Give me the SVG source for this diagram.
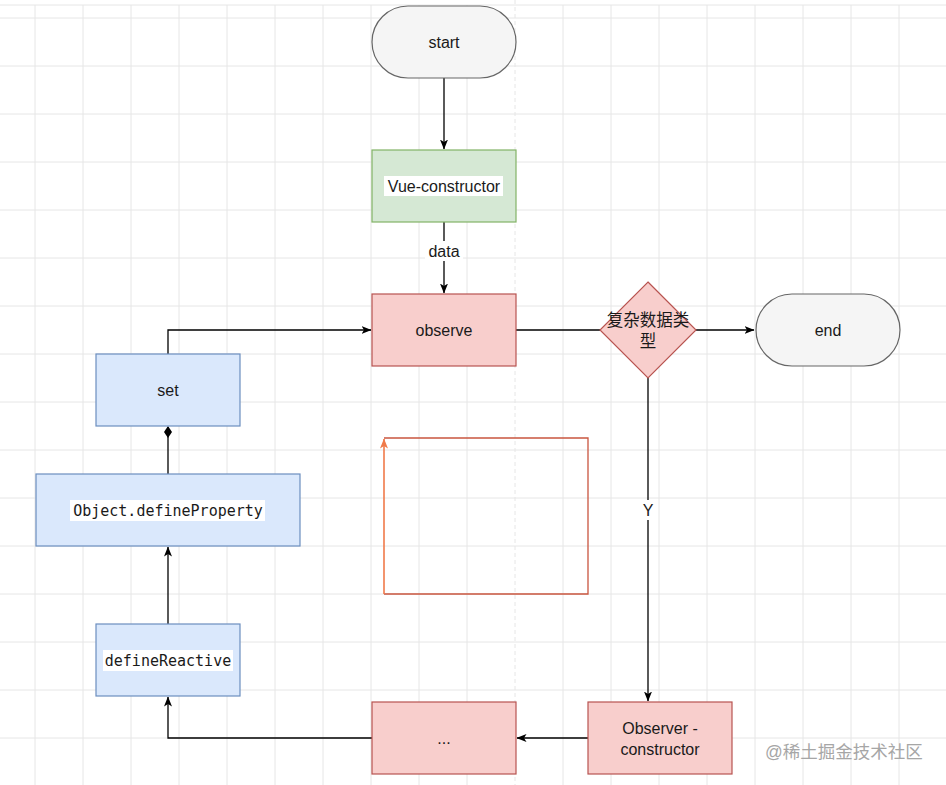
<svg xmlns="http://www.w3.org/2000/svg" width="946" height="785" viewBox="0 0 946 785">
  <style>
    .grid line { stroke: #e6e6e6; stroke-width: 1; }
    .lbl { font-family: "Liberation Sans", Arial, sans-serif; font-size: 16px; fill: #1a1a1a; text-anchor: middle; dominant-baseline: central; }
    .mono { font-family: "DejaVu Sans Mono", "Liberation Mono", monospace; font-size: 15px; fill: #1a1a1a; text-anchor: middle; dominant-baseline: central; }
    .cjk { font-family: "Liberation Sans", "Noto Sans CJK SC", sans-serif; font-size: 16.5px; fill: #1a1a1a; text-anchor: middle; dominant-baseline: central; }
    .term { fill: #f5f5f5; stroke: #666666; stroke-width: 1.2; }
    .green { fill: #d5e8d4; stroke: #82b366; stroke-width: 1.2; }
    .red { fill: #f8cecc; stroke: #b85450; stroke-width: 1.2; }
    .blue { fill: #dae8fc; stroke: #6c8ebf; stroke-width: 1.2; }
    .edge { fill: none; stroke: #000; stroke-width: 1.3; }
  </style>
  <defs>
    <marker id="arrow" viewBox="0 0 10 10" refX="9.5" refY="5" markerWidth="10" markerHeight="10" markerUnits="userSpaceOnUse" orient="auto">
      <path d="M0,1 L10,5 L0,9 L2.5,5 z" fill="#000"/>
    </marker>
    <marker id="arrowOrange" viewBox="0 0 10 10" refX="9.5" refY="5" markerWidth="10" markerHeight="10" markerUnits="userSpaceOnUse" orient="auto">
      <path d="M0,1 L10,5 L0,9 L2.5,5 z" fill="#f07a4a"/>
    </marker>
    <marker id="diamond" viewBox="0 0 12 12" refX="11" refY="6" markerWidth="12" markerHeight="12" markerUnits="userSpaceOnUse" orient="auto">
      <path d="M0,6 L6,2 L12,6 L6,10 z" fill="#000"/>
    </marker>
  </defs>
  <rect x="0" y="0" width="946" height="785" fill="#ffffff"/>
  <g class="grid">
    <line x1="0" y1="5" x2="946" y2="5"/>
    <line x1="0" y1="18" x2="946" y2="18"/>
    <line x1="0" y1="66" x2="946" y2="66"/>
    <line x1="0" y1="114" x2="946" y2="114"/>
    <line x1="0" y1="162" x2="946" y2="162"/>
    <line x1="0" y1="210" x2="946" y2="210"/>
    <line x1="0" y1="258" x2="946" y2="258"/>
    <line x1="0" y1="306" x2="946" y2="306"/>
    <line x1="0" y1="354" x2="946" y2="354"/>
    <line x1="0" y1="402" x2="946" y2="402"/>
    <line x1="0" y1="450" x2="946" y2="450"/>
    <line x1="0" y1="498" x2="946" y2="498"/>
    <line x1="0" y1="546" x2="946" y2="546"/>
    <line x1="0" y1="594" x2="946" y2="594"/>
    <line x1="0" y1="642" x2="946" y2="642"/>
    <line x1="0" y1="690" x2="946" y2="690"/>
    <line x1="0" y1="738" x2="946" y2="738"/>
    <line x1="35" y1="5" x2="35" y2="785"/>
    <line x1="83" y1="5" x2="83" y2="785"/>
    <line x1="131" y1="5" x2="131" y2="785"/>
    <line x1="179" y1="5" x2="179" y2="785"/>
    <line x1="227" y1="5" x2="227" y2="785"/>
    <line x1="275" y1="5" x2="275" y2="785"/>
    <line x1="323" y1="5" x2="323" y2="785"/>
    <line x1="371" y1="5" x2="371" y2="785"/>
    <line x1="419" y1="5" x2="419" y2="785"/>
    <line x1="467" y1="5" x2="467" y2="785"/>
    <line x1="563" y1="5" x2="563" y2="785"/>
    <line x1="611" y1="5" x2="611" y2="785"/>
    <line x1="659" y1="5" x2="659" y2="785"/>
    <line x1="707" y1="5" x2="707" y2="785"/>
    <line x1="755" y1="5" x2="755" y2="785"/>
    <line x1="803" y1="5" x2="803" y2="785"/>
    <line x1="851" y1="5" x2="851" y2="785"/>
    <line x1="899" y1="5" x2="899" y2="785"/>
    <line x1="515" y1="0" x2="515" y2="785" stroke="#c8c8c8" stroke-dasharray="4 3"/>
  </g>

  <g id="connectors">
    <path class="edge" d="M444,78 L444,149" marker-end="url(#arrow)"/>
    <path class="edge" d="M444,222 L444,293" marker-end="url(#arrow)"/>
    <rect x="425" y="241" width="38" height="20" fill="#ffffff"/>
    <text class="lbl" x="444" y="251">data</text>
    <path class="edge" d="M516,330 L600,330"/>
    <path class="edge" d="M696,330 L754,330" marker-end="url(#arrow)"/>
    <path class="edge" d="M648,378 L648,701" marker-end="url(#arrow)"/>
    <rect x="640" y="500" width="16" height="20" fill="#ffffff"/>
    <text class="lbl" x="648" y="510">Y</text>
    <path class="edge" d="M588,738 L517,738" marker-end="url(#arrow)"/>
    <path class="edge" d="M372,738 L168,738 L168,697" marker-end="url(#arrow)"/>
    <path class="edge" d="M168,624 L168,547" marker-end="url(#arrow)"/>
    <path class="edge" d="M168,474 L168,427" marker-end="url(#diamond)"/>
    <path class="edge" d="M168,354 L168,330 L371,330" marker-end="url(#arrow)"/>
  </g>

  <g id="start">
    <rect class="term" x="372" y="6" width="144" height="72" rx="36" ry="36"/>
    <text class="lbl" x="444" y="42" fill="#333">start</text>
  </g>
  <g id="vue-constructor">
    <rect class="green" x="372" y="150" width="144" height="72"/>
    <rect x="384" y="176" width="119" height="20" fill="#ffffff"/>
    <text class="lbl" x="444" y="186">Vue-constructor</text>
  </g>
  <g id="observe">
    <rect class="red" x="372" y="294" width="144" height="72"/>
    <text class="lbl" x="444" y="330">observe</text>
  </g>
  <g id="complex-type">
    <polygon class="red" points="648,282 696,330 648,378 600,330"/>
    <text class="cjk" x="648" y="320">复杂数据类</text>
    <text class="cjk" x="648" y="341">型</text>
  </g>
  <g id="end">
    <rect class="term" x="756" y="294" width="144" height="72" rx="36" ry="36"/>
    <text class="lbl" x="828" y="330" fill="#333">end</text>
  </g>
  <g id="observer-constructor">
    <rect class="red" x="588" y="702" width="144" height="72"/>
    <text class="lbl" x="660" y="728">Observer -</text>
    <text class="lbl" x="660" y="749">constructor</text>
  </g>
  <g id="ellipsis">
    <rect class="red" x="372" y="702" width="144" height="72"/>
    <text class="lbl" x="444" y="738">...</text>
  </g>
  <g id="set">
    <rect class="blue" x="96" y="354" width="144" height="72"/>
    <text class="lbl" x="168" y="390">set</text>
  </g>
  <g id="define-property">
    <rect class="blue" x="36" y="474" width="264" height="72"/>
    <rect x="70" y="500" width="195" height="21" fill="#ffffff"/>
    <text class="mono" x="168" y="511">Object.defineProperty</text>
  </g>
  <g id="define-reactive">
    <rect class="blue" x="96" y="624" width="144" height="72"/>
    <rect x="103" y="650" width="130" height="21" fill="#ffffff"/>
    <text class="mono" x="168" y="661">defineReactive</text>
  </g>
  <g id="loop-sketch">
    <path d="M384,438 L588,438 L588,594 L384,594" fill="none" stroke="#c9553f" stroke-width="1.3"/>
    <path d="M384,594 L384,439" fill="none" stroke="#f07a4a" stroke-width="1.6" marker-end="url(#arrowOrange)"/>
  </g>
  <text x="844" y="752" font-family="'Liberation Sans', 'Noto Sans CJK SC', sans-serif" font-size="17.5" fill="#a6a6a6" text-anchor="middle" dominant-baseline="central">@稀土掘金技术社区</text>
</svg>
